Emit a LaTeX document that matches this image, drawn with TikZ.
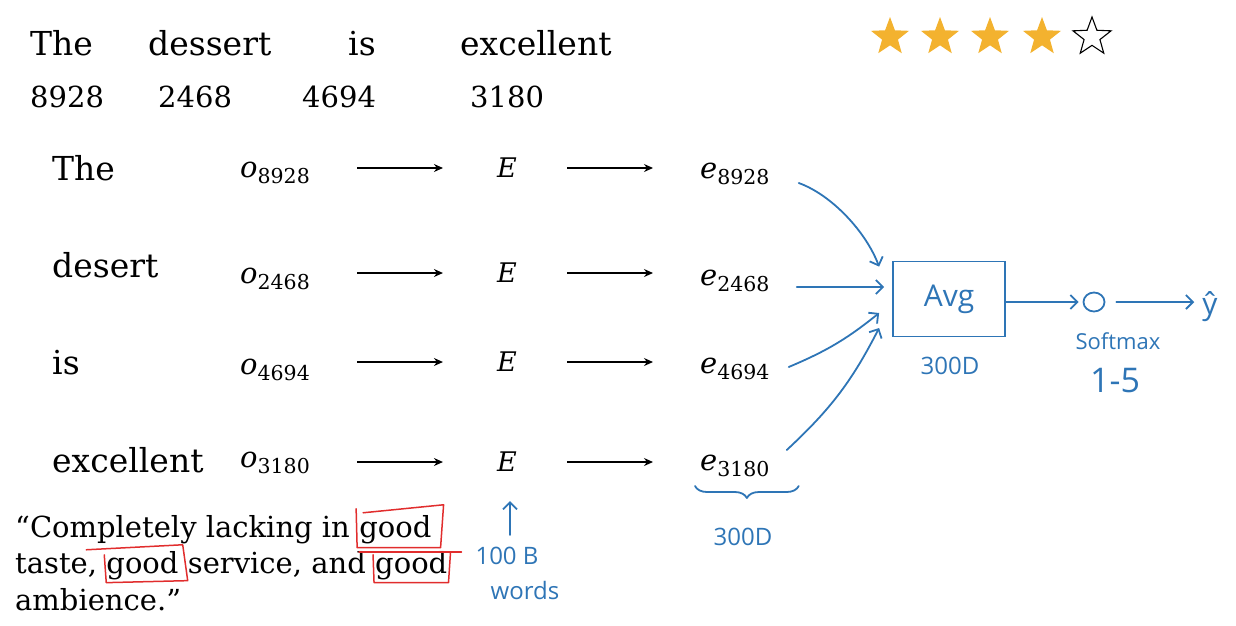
\documentclass[tikz,border=0pt]{standalone}
\usepackage{fontspec}
\setmainfont{DejaVu Serif}
\newfontfamily\handfont{Open Sans}
\usetikzlibrary{shapes.geometric,decorations.pathreplacing,arrows.meta,calc}
\definecolor{penblue}{RGB}{46,117,182}
\definecolor{penred}{RGB}{225,45,45}
\definecolor{stargold}{RGB}{243,178,47}
% italic letter with a lowered index, as on the slide
\newcommand{\idx}[2]{\textit{#1}\raisebox{-6pt}{\fontsize{20.5}{21}\selectfont #2}}

\begin{document}
\begin{tikzpicture}[
    x=1pt, y=-1pt,
    word/.style={
      anchor=base west,
      inner sep=0pt,
      font=\fontsize{33}{40}\selectfont
    },
    index/.style={
      anchor=base west,
      inner sep=0pt,
      font=\fontsize{29}{34}\selectfont
    },
    vec/.style={
      anchor=base west,
      inner sep=0pt,
      font=\fontsize{29}{34}\selectfont
    },
    emb/.style={
      inner sep=0pt,
      font=\fontsize{27}{32}\selectfont\itshape
    },
    quote/.style={
      anchor=base west,
      inner sep=0pt,
      font=\fontsize{29}{34}\selectfont
    },
    flow/.style={
      -{Stealth[length=9pt,width=8pt]},
      line width=1.3pt
    },
    pen/.style={
      penblue,
      line width=1.8pt,
      line cap=round,
      line join=round
    },
    penarrow/.style={
      pen,
      -{Straight Barb[length=7pt,width=14pt]}
    },
    hand/.style={
      text=penblue,
      inner sep=0pt,
      font=\handfont\fontsize{24}{28}\selectfont
    },
    redpen/.style={
      penred,
      line width=1.5pt,
      line cap=round,
      line join=round
    },
    rate/.style={
      star,
      star points=5,
      star point ratio=2.4,
      minimum size=40pt,
      inner sep=0pt
    }
  ]

    \useasboundingbox (0,0) rectangle (1236,625);

    % Review sentence and word indices
    \foreach \x/\w [count=\i] in {30/The,148/dessert,348/is,460/excellent} {
      \node[word] (top\i) at (\x,55) {\w};
    }
    \foreach \x/\n [count=\i] in {30/8928,158/2468,302/4694,470/3180} {
      \node[index] (id\i) at (\x,107) {\n};
    }

    % Rating
    \foreach \x [count=\i] in {890,940,990,1042} {
      \node[rate, fill=stargold] (s\i) at (\x,37) {};
    }
    \node[rate, draw, line width=1.1pt] (s5) at (1092,37) {};

    % One-hot -> embedding matrix -> embedding vector
    \foreach \w/\n/\yw/\yo/\yE/\ye [count=\i] in {
        The/8928/180/177/168/178,
        desert/2468/277/283/273/285,
        is/4694/374/374/362/373,
        excellent/3180/472/467/462/470} {
      \node[word] (row\i) at (52,\yw) {\w};
      \node[vec] (o\i) at (240,\yo) {\idx{o}{\n}};
      \node[emb] (E\i) at (507,\yE) {E};
      \node[vec] (e\i) at (700,\ye) {\idx{e}{\n}};
      \draw[flow, shorten <=47pt, shorten >=54pt] (o\i.east |- E\i) -- (E\i);
      \draw[flow, shorten <=50pt, shorten >=47pt] (E\i) -- (e\i.west |- E\i);
    }

    % Average of the embeddings
    \node[draw=penblue, line width=1.8pt, minimum width=112pt, minimum height=75pt,
      hand, font=\handfont\fontsize{30}{34}\selectfont] (avg) at (949,299) {Avg};
    \node[hand] (dimavg) at (950,366) {300D};

    \draw[penarrow] ($(e1.base east)+(29,5)$) .. controls (832,195) and (866,232) .. ($(avg.north west)+(-13,6)$);
    \draw[penarrow] ($(e2.base east)+(27,2)$) -- ($(avg.west)+(-8,-12)$);
    \draw[penarrow] ($(e3.base east)+(19,-6)$) to[bend right=8] ($(avg.west)+(-13,14)$);
    \draw[penarrow] ($(e4.base east)+(17,-20)$) to[bend right=10] ($(avg.west)+(-13,29)$);

    % Softmax output
    \node[ellipse, draw=penblue, line width=1.8pt, minimum width=21pt,
      minimum height=19pt, inner sep=0pt] (sm) at (1094,302) {};
    \node[hand, font=\handfont\fontsize{30}{34}\selectfont] (yhat) at (1210,307) {ŷ};
    \node[hand, font=\handfont\fontsize{22}{26}\selectfont] (smlabel) at (1118,341) {Softmax};
    \node[hand, font=\handfont\fontsize{34}{38}\selectfont] (range) at (1115,381) {1-5};

    \draw[penarrow, shorten >=4pt] (avg.east |- sm) -- (sm);
    \draw[penarrow, shorten <=11pt, shorten >=8pt] (sm) -- (sm -| yhat.west);

    % Embedding size
    \draw[pen, decorate, decoration={brace, mirror, amplitude=12pt}]
      ($(e4.base west)+(-5,16)$) -- ($(e4.base east)+(29,16)$);
    \node[hand] (dime) at (743,537) {300D};

    % Training corpus
    \node[hand] (corpus) at (507,556) {100 B};
    \node[hand] (words) at (525,590) {words};
    \draw[penarrow, shorten <=12pt, shorten >=29pt] ([xshift=3pt]corpus.north) -- ([xshift=3pt]corpus.north |- E4.south);

    % Negative review with repeated "good"
    \node[quote] (q1) at (15,537) {“Completely lacking in};
    \node[quote] (g1) at ($(q1.base east)+(9,0)$) {good};
    \node[quote] (q2) at (15,573) {taste,};
    \node[quote] (g2) at ($(q2.base east)+(9,0)$) {good};
    \node[quote] (q2b) at ($(g2.base east)+(9,0)$) {service, and};
    \node[quote] (g3) at ($(q2b.base east)+(9,0)$) {good};
    \node[quote] (q3) at (15,610) {ambience.”};

    \draw[redpen] ($(g1.north west)+(-3,-6)$) -- ($(g1.south west)+(-2,4)$) -- ($(g1.south east)+(9,4)$)
      -- ($(g1.north east)+(12,-10)$) -- ($(g1.north west)+(4,-2)$);
    \draw[redpen] ($(g2.north west)+(-20,-1)$) -- ($(g2.north east)+(4,-6)$) -- ($(g2.south east)+(9,1)$)
      -- ($(g2.south west)+(0,3)$) -- ($(g2.north west)+(-2,4)$);
    \draw[redpen] ($(g3.north west)+(-16,1)$) -- ($(g3.north east)+(14,1)$);
    \draw[redpen] ($(g3.north west)+(-2,4)$) -- ($(g3.south west)+(-1,3)$) -- ($(g3.south east)+(1,3)$)
      -- ($(g3.north east)+(3,2)$);

\end{tikzpicture}
\end{document}
